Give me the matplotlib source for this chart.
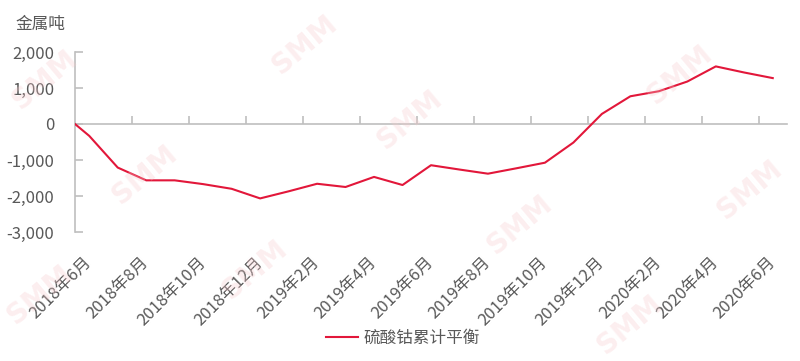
import matplotlib
matplotlib.use('Agg')
import matplotlib.pyplot as plt
from matplotlib.ticker import FuncFormatter
import numpy as np

plt.rcParams['font.family'] = ['Noto Sans CJK SC', 'DejaVu Sans']

months = ['2018年6月', '2018年7月', '2018年8月', '2018年9月', '2018年10月', '2018年11月',
          '2018年12月', '2019年1月', '2019年2月', '2019年3月', '2019年4月', '2019年5月',
          '2019年6月', '2019年7月', '2019年8月', '2019年9月', '2019年10月', '2019年11月',
          '2019年12月', '2020年1月', '2020年2月', '2020年3月', '2020年4月', '2020年5月',
          '2020年6月']
balance = [-330, -1210, -1565, -1565, -1670, -1800,
           -2067, -1870, -1660, -1750, -1470, -1695,
           -1145, -1265, -1380, -1230, -1075, -515,
           280, 770, 910, 1180, 1600, 1430,
           1275]
start_balance = 0
series_name = '硫酸钴累计平衡'
y_unit = '金属吨'

grey_axis = '#BFBFBF'
grey_text = '#595959'
red = '#E2173A'

fig = plt.figure(figsize=(8, 3.61), dpi=100)
ax = fig.add_axes([75 / 800, 1 - 232 / 361, 712 / 800, 180 / 361])

x = np.arange(len(months))
ax.plot(np.r_[-0.5, x], np.r_[start_balance, balance], color=red, lw=1.5,
        label=series_name, zorder=3)

ymin, ymax = -3000, 2000
ax.set_xlim(-0.5, len(months) - 0.5)
ax.set_ylim(ymin, ymax)
ax.set_yticks(np.arange(ymin, ymax + 1, 1000))
ax.yaxis.set_major_formatter(FuncFormatter(lambda v, p: f'{int(v):,}'))

for s in ['top', 'right', 'bottom']:
    ax.spines[s].set_visible(False)
ax.spines['left'].set_color(grey_axis)
ax.spines['left'].set_linewidth(1.2)
ax.tick_params(axis='y', direction='in', length=6, width=1.2, color=grey_axis,
               labelcolor=grey_text, labelsize=12, pad=15)

ax.set_xticks(x[::2])
ax.set_xticklabels(months[::2], rotation=45, ha='right', va='center',
                   rotation_mode='anchor')
ax.tick_params(axis='x', length=0, labelcolor=grey_text, labelsize=12, pad=20)

# zero line with category-boundary tick marks
zero_frac = (0 - ymin) / (ymax - ymin)
sec = ax.secondary_xaxis(zero_frac)
sec.set_xticks(np.arange(1.5, len(months) - 0.5, 2))
sec.tick_params(direction='out', length=6, width=1.2, color=grey_axis,
                labeltop=False, labelbottom=False)
for s in sec.spines.values():
    s.set_color(grey_axis)
    s.set_linewidth(1.2)

fig.text(15 / 800, 1 - 24 / 361, y_unit, ha='left', va='center', fontsize=12,
         color=grey_text)

ax.legend(loc='center', bbox_to_anchor=(403 / 800, 1 - 338 / 361),
          bbox_transform=fig.transFigure, frameon=False, handlelength=1.9,
          handletextpad=0.3, prop={'size': 12}, labelcolor=grey_text)

# faint SMM watermarks
wm = [(45, 80), (145, 175), (305, 45), (410, 120), (680, 75), (750, 190),
      (520, 225), (255, 270), (630, 325), (40, 295)]
for (px, py) in wm:
    fig.text(px / 800, 1 - py / 361, 'SMM', fontsize=20, fontweight='bold',
             color='#F7C9CC', alpha=0.3, rotation=40, ha='center', va='center',
             family='DejaVu Sans', zorder=0)

fig.savefig('out.png', dpi=100)
